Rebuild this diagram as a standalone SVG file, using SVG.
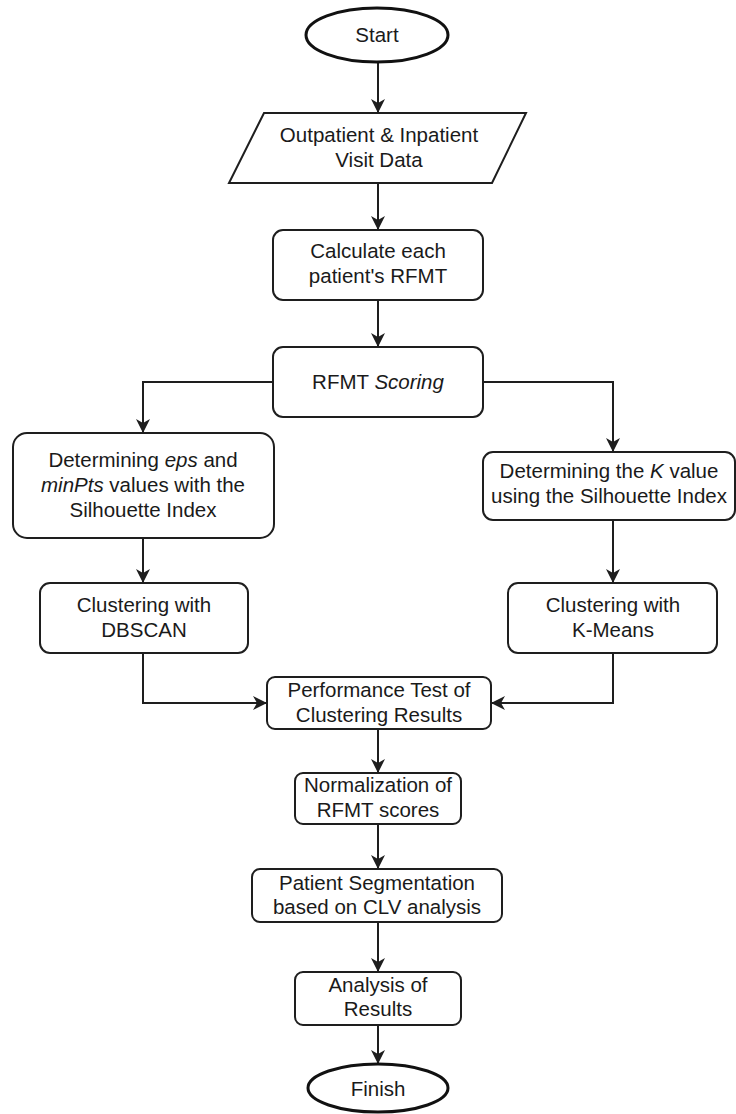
<svg xmlns="http://www.w3.org/2000/svg" width="736" height="1114" viewBox="0 0 736 1114">
<defs>
<style>
.n{fill:#fff;stroke:#1e1e1e;stroke-width:2}
.e{fill:#fff;stroke:#111;stroke-width:3}
.t{font-family:"Liberation Sans",Arial,sans-serif;font-size:20.5px;fill:#1a1a1a;text-anchor:middle}
.c{fill:none;stroke:#1e1e1e;stroke-width:2}
</style>
<marker id="ah" viewBox="0 0 14 14" refX="13" refY="7" markerWidth="14" markerHeight="14" markerUnits="userSpaceOnUse" orient="auto">
<path d="M0,0 L14,7 L0,14 L4,7 z" fill="#1e1e1e"/>
</marker>
</defs>
<rect width="736" height="1114" fill="#fff"/>
<g id="connectors">
<path class="c" d="M378,62 V112" marker-end="url(#ah)"/>
<path class="c" d="M378,183 V229" marker-end="url(#ah)"/>
<path class="c" d="M378,300 V346" marker-end="url(#ah)"/>
<path class="c" d="M273,382 H143 V432" marker-end="url(#ah)"/>
<path class="c" d="M483,382 H613 V451" marker-end="url(#ah)"/>
<path class="c" d="M143,538 V582" marker-end="url(#ah)"/>
<path class="c" d="M613,520 V582" marker-end="url(#ah)"/>
<path class="c" d="M143,653 V703 H266" marker-end="url(#ah)"/>
<path class="c" d="M613,653 V703 H492" marker-end="url(#ah)"/>
<path class="c" d="M378,729 V772" marker-end="url(#ah)"/>
<path class="c" d="M378,824 V868" marker-end="url(#ah)"/>
<path class="c" d="M378,922 V971" marker-end="url(#ah)"/>
<path class="c" d="M378,1025 V1063" marker-end="url(#ah)"/>
</g>
<g id="start">
<ellipse class="e" cx="377" cy="35" rx="71" ry="27"/>
<text class="t" x="377" y="42">Start</text>
</g>
<g id="data">
<polygon class="n" points="264,113 526,113 492,183 229,183"/>
<text class="t" x="379" y="142">Outpatient &amp; Inpatient</text>
<text class="t" x="379" y="167">Visit Data</text>
</g>
<g id="calc">
<rect class="n" x="273" y="230" width="210" height="70" rx="10"/>
<text class="t" x="378" y="258">Calculate each</text>
<text class="t" x="378" y="283">patient's RFMT</text>
</g>
<g id="scoring">
<rect class="n" x="273" y="347" width="210" height="70" rx="10"/>
<text class="t" x="378" y="389">RFMT <tspan font-style="italic">Scoring</tspan></text>
</g>
<g id="eps">
<rect class="n" x="13" y="433" width="261" height="105" rx="14"/>
<text class="t" x="143" y="467">Determining <tspan font-style="italic">eps</tspan> and</text>
<text class="t" x="143" y="492"><tspan font-style="italic">minPts</tspan> values with the</text>
<text class="t" x="143" y="517">Silhouette Index</text>
</g>
<g id="kval">
<rect class="n" x="483" y="452" width="252" height="68" rx="10"/>
<text class="t" x="609" y="478">Determining the <tspan font-style="italic">K</tspan> value</text>
<text class="t" x="609" y="503">using the Silhouette Index</text>
</g>
<g id="dbscan">
<rect class="n" x="40" y="583" width="208" height="70" rx="10"/>
<text class="t" x="144" y="612">Clustering with</text>
<text class="t" x="144" y="637">DBSCAN</text>
</g>
<g id="kmeans">
<rect class="n" x="508" y="583" width="209" height="70" rx="10"/>
<text class="t" x="613" y="612">Clustering with</text>
<text class="t" x="613" y="637">K-Means</text>
</g>
<g id="perf">
<rect class="n" x="267" y="677" width="224" height="52" rx="8"/>
<text class="t" x="379" y="697">Performance Test of</text>
<text class="t" x="379" y="722">Clustering Results</text>
</g>
<g id="norm">
<rect class="n" x="295" y="773" width="166" height="51" rx="8"/>
<text class="t" x="378" y="792">Normalization of</text>
<text class="t" x="378" y="817">RFMT scores</text>
</g>
<g id="seg">
<rect class="n" x="252" y="869" width="250" height="53" rx="8"/>
<text class="t" x="377" y="890">Patient Segmentation</text>
<text class="t" x="377" y="914">based on CLV analysis</text>
</g>
<g id="analysis">
<rect class="n" x="295" y="972" width="166" height="53" rx="8"/>
<text class="t" x="378" y="992">Analysis of</text>
<text class="t" x="378" y="1016">Results</text>
</g>
<g id="finish">
<ellipse class="e" cx="378" cy="1088" rx="70" ry="24"/>
<text class="t" x="378" y="1096">Finish</text>
</g>
</svg>
